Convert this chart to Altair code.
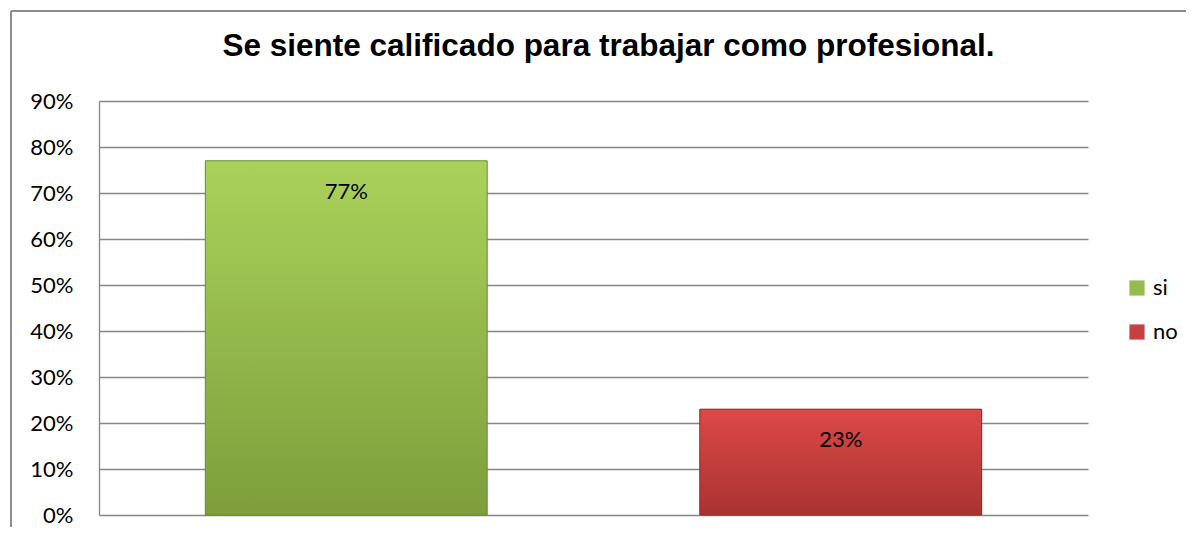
import altair as alt
import pandas as pd

categories = ["si", "no"]
values = [0.77, 0.23]
legend_colors = ["#95BB4C", "#C3413F"]

df = pd.DataFrame({"cat": categories, "val": values})

W, H = 989, 414
FONT = "Lato"

x = alt.X("cat:N", sort=categories, axis=None,
          scale=alt.Scale(paddingInner=0.43, paddingOuter=0.215))
y = alt.Y("val:Q",
          scale=alt.Scale(domain=[0, 0.9], nice=False),
          axis=alt.Axis(title=None, format=".0%", values=[i / 10 for i in range(10)],
                        ticks=False, labelPadding=26, labelFontSize=22, labelFont=FONT,
                        labelColor="#000000", gridColor="#868686", gridWidth=1.3,
                        domainColor="#868686", domainWidth=1.3))

base = alt.Chart(df).encode(x=x, y=y)

legend_bars = base.mark_bar().encode(
    color=alt.Color("cat:N", sort=categories,
                    scale=alt.Scale(domain=categories, range=legend_colors),
                    legend=alt.Legend(title=None, orient="none", legendX=1027, legendY=176,
                                      symbolType="square", symbolSize=230,
                                      symbolStrokeWidth=0, labelFontSize=22, labelFont=FONT,
                                      labelColor="#000000", rowPadding=22, labelOffset=5))
)

green = base.mark_bar(
    color=alt.Gradient(gradient="linear", x1=0, x2=0, y1=0, y2=1,
                       stops=[alt.GradientStop(offset=0, color="#AAD25A"),
                              alt.GradientStop(offset=1, color="#7D9E3B")]),
    stroke="#6F8C33", strokeWidth=1
).transform_filter(alt.datum.cat == "si")

red = base.mark_bar(
    color=alt.Gradient(gradient="linear", x1=0, x2=0, y1=0, y2=1,
                       stops=[alt.GradientStop(offset=0, color="#DC4948"),
                              alt.GradientStop(offset=1, color="#A93331")]),
    stroke="#8E2B29", strokeWidth=1
).transform_filter(alt.datum.cat == "no")

labels = base.mark_text(baseline="alphabetic", dy=38, fontSize=22, font=FONT,
                        color="#000000").encode(text=alt.Text("val:Q", format=".0%"))

frame_left = alt.Chart(df).mark_rule(color="#868686", strokeWidth=1.5).encode(
    x=alt.value(-88), y=alt.value(-90), y2=alt.value(440))
frame_top = alt.Chart(df).mark_rule(color="#868686", strokeWidth=1.5).encode(
    x=alt.value(-88), x2=alt.value(1100), y=alt.value(-90))

chart = alt.layer(legend_bars, green, red, labels, frame_left, frame_top).properties(
    width=W, height=H,
    title=alt.TitleParams("Se siente calificado para trabajar como profesional.",
                          font="Liberation Sans", fontSize=31.5, fontWeight="bold",
                          color="#000000", anchor="middle", frame="group", dx=15,
                          baseline="alphabetic", offset=-77),
    autosize=alt.AutoSizeParams(type="none"),
    padding={"left": 91, "top": 93, "right": 98, "bottom": 12},
).configure_view(stroke=None)

chart.save("out.html", embed_options={"renderer": "svg", "actions": False})
